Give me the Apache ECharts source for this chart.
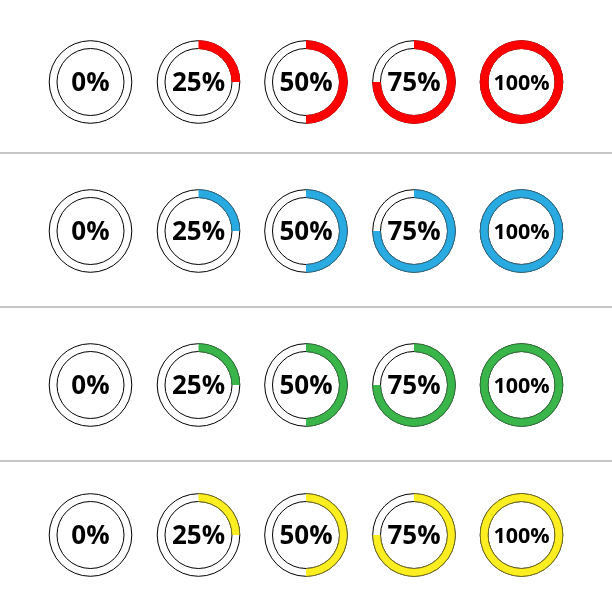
<!DOCTYPE html>
<html>
<head>
<meta charset="utf-8">
<style>
    html, body { margin: 0; padding: 0; background: #fff; }
    #main { width: 612px; height: 612px; }
</style>
<script src="https://cdn.jsdelivr.net/npm/echarts@6/dist/echarts.min.js"></script>
</head>
<body>
<div id="main"></div>
<script>
var percentValues = [0, 25, 50, 75, 100];
var percentLabels = ['0%', '25%', '50%', '75%', '100%'];
var rowNames = ['red', 'blue', 'green', 'yellow'];

// layout and colours
var columnX = [90.5, 198.5, 306, 414, 521.5];
var rowY = [82, 231, 385, 535];
var separatorY = [153, 307, 461];
var fillColors = ['#ff0000', '#29abe2', '#39b54a', '#fcee21'];
var edgeColors = ['#ff0000', '#2b6f8c', '#2f7a3a', '#77711a'];
var radius = [33.5, 41.3];

var myChart = echarts.init(document.getElementById('main'), null, { renderer: 'canvas' });

var series = [];
rowNames.forEach(function (rowName, r) {
    percentValues.forEach(function (value, c) {
        var center = [columnX[c], rowY[r]];
        var common = {
            type: 'pie',
            silent: true,
            animation: false,
            radius: radius,
            center: center,
            startAngle: 90,
            clockwise: true,
            labelLine: { show: false }
        };
        // empty ring with black outline, carries the centre text
        series.push(Object.assign({}, common, {
            name: rowName + '-ring',
            z: 1,
            data: [{ name: percentLabels[c], value: 100 }],
            itemStyle: { color: '#fff', borderColor: '#000', borderWidth: 1 },
            label: {
                show: true,
                position: 'center',
                formatter: '{b}',
                color: '#000',
                fontFamily: 'Open Sans',
                fontWeight: 700,
                fontSize: value === 100 ? 21.5 : 26,
                offset: [0, 1.5]
            }
        }));
        // coloured part
        series.push(Object.assign({}, common, {
            name: rowName + '-fill',
            z: 2,
            label: { show: false },
            data: [
                { value: value, itemStyle: { color: fillColors[r], borderWidth: 0 } },
                { value: 100 - value, itemStyle: { color: 'rgba(0,0,0,0)', borderWidth: 0 } }
            ]
        }));
        // thin edge along the outer and inner arcs of the coloured part
        ['outer', 'inner'].forEach(function (side) {
            var edgeRadius = side === 'outer' ? radius[1] : radius[0];
            series.push(Object.assign({}, common, {
                name: rowName + '-' + side,
                z: 3,
                radius: [edgeRadius - 0.4, edgeRadius + 0.4],
                label: { show: false },
                data: [
                    { value: value, itemStyle: { color: edgeColors[r], borderWidth: 0 } },
                    { value: 100 - value, itemStyle: { color: 'rgba(0,0,0,0)', borderWidth: 0 } }
                ]
            }));
        });
    });
});

myChart.setOption({
    backgroundColor: '#ffffff',
    graphic: separatorY.map(function (y) {
        return {
            type: 'line',
            silent: true,
            shape: { x1: 0, y1: y, x2: 612, y2: y },
            style: { stroke: '#c6c6c6', lineWidth: 2 }
        };
    }),
    series: series
});
</script>
</body>
</html>
